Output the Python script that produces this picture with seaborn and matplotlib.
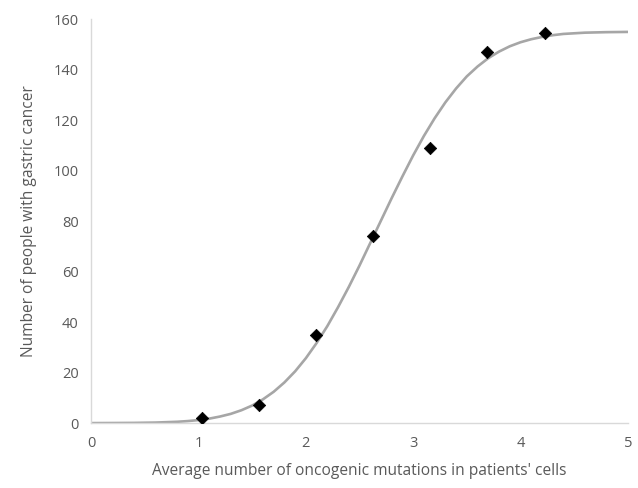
import matplotlib
matplotlib.use("Agg")
import matplotlib.pyplot as plt
import seaborn as sns
import pandas as pd

# Observed data points
obs_x = [1.03, 1.56, 2.09, 2.63, 3.16, 3.69, 4.23]
obs_y = [2, 7, 35, 74, 109, 147, 154.5]

# Fitted curve values
curve_x = [0.0, 0.2, 0.4, 0.6, 0.8, 0.9, 1.0, 1.1, 1.2, 1.3, 1.4, 1.5, 1.6, 1.7,
           1.8, 1.9, 2.0, 2.1, 2.2, 2.3, 2.4, 2.5, 2.6, 2.7, 2.8, 2.9, 3.0, 3.1,
           3.2, 3.3, 3.4, 3.5, 3.6, 3.7, 3.8, 3.9, 4.0, 4.1, 4.2, 4.3, 4.4, 4.6,
           4.8, 5.0]
curve_y = [0.0, 0.03, 0.08, 0.21, 0.52, 0.80, 1.2, 1.77, 2.6, 3.65, 5.1, 6.96,
           9.4, 12.4, 16.1, 20.5, 25.7, 31.7, 38.4, 45.9, 53.9, 62.4, 71.3, 80.2,
           89.1, 97.7, 106.0, 113.7, 120.7, 127.0, 132.5, 137.3, 141.2, 144.5,
           147.1, 149.2, 150.8, 152.0, 152.9, 153.6, 154.1, 154.6, 154.8, 154.9]

x_ticks = [0, 1, 2, 3, 4, 5]
y_ticks = [0, 20, 40, 60, 80, 100, 120, 140, 160]

sns.set_theme(style="white")
plt.rcParams['font.family'] = ['Open Sans', 'DejaVu Sans']

fig = plt.figure(figsize=(6.38, 4.88), dpi=100)
ax = fig.add_axes([0.143, 0.133, 0.841, 0.828])

curve = pd.DataFrame({"x": curve_x, "y": curve_y})
pts = pd.DataFrame({"x": obs_x, "y": obs_y})

sns.lineplot(data=curve, x="x", y="y", ax=ax, color="#a6a6a6", linewidth=1.9)
sns.scatterplot(data=pts, x="x", y="y", ax=ax, marker="D", color="black",
                s=40, edgecolor="black", zorder=5)

ax.set_xlim(0, 5)
ax.set_ylim(0, 160)
ax.set_xticks(x_ticks)
ax.set_yticks(y_ticks)
txt = "#595959"
ax.tick_params(axis="both", colors=txt, labelsize=10.5, length=0, pad=9)
for s in ["top", "right"]:
    ax.spines[s].set_visible(False)
for s in ["left", "bottom"]:
    ax.spines[s].set_color("#d9d9d9")
    ax.spines[s].set_linewidth(1.0)

ax.set_xlabel("Average number of oncogenic mutations in patients' cells",
              color=txt, fontsize=11.2, labelpad=9)
ax.set_ylabel("Number of people with gastric cancer", color=txt,
              fontsize=11.2, labelpad=12)

fig.savefig("out.png", dpi=100)
